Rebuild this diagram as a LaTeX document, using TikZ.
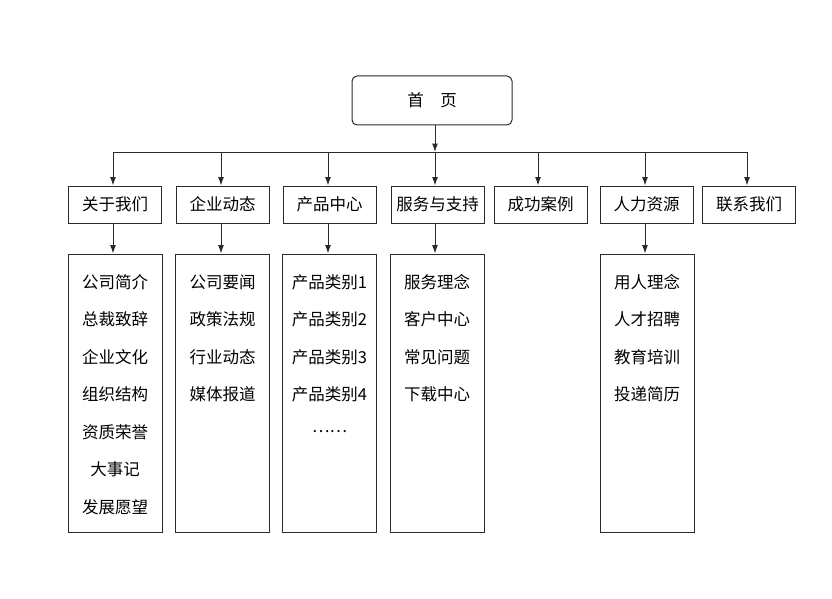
\documentclass[tikz,border=0pt]{standalone}
\usepackage{fontspec}
\newfontfamily\cjk{Noto Sans CJK SC}
\usetikzlibrary{arrows.meta}
\definecolor{ln}{HTML}{2a2a2a}
\tikzset{
  box/.style={draw=ln, line width=1pt, inner sep=0pt, font=\cjk\fontsize{16.5}{19}\selectfont, text=black},
  midbox/.style={box, minimum width=93pt, minimum height=37pt},
  lowbox/.style={box, minimum width=94pt, minimum height=278pt},
  item/.style={inner sep=0pt, font=\cjk\fontsize{16.5}{19}\selectfont, text=black},
  arr/.style={draw=ln, line width=1pt, -{Latex[length=8.5pt,width=6pt]}},
  bus/.style={draw=ln, line width=1pt}
}
\begin{document}
\begin{tikzpicture}[x=1pt,y=-1pt]
\useasboundingbox (0,0) rectangle (832,599);
% top
\node[box, rounded corners=5pt, minimum width=160pt, minimum height=49pt] (home) at (432,100.5) {首\quad 页};
% second row
\node[midbox] (m1) at (115,204.5) {关于我们};
\node[midbox] (m2) at (222.5,204.5) {企业动态};
\node[midbox] (m3) at (329.5,204.5) {产品中心};
\node[midbox] (m4) at (437.5,204.5) {服务与支持};
\node[midbox] (m5) at (540.5,204.5) {成功案例};
\node[midbox] (m6) at (646.5,204.5) {人力资源};
\node[midbox] (m7) at (749,204.5) {联系我们};
% bus
\coordinate (busL) at (113,152);
\coordinate (busR) at (747,152);
\coordinate (hs) at (435,100.5);
\draw[arr] (hs |- home.south) -- (hs |- busL);
\draw[bus] (busL) -- (busR);
\foreach \x/\n in {113/m1,221/m2,328/m3,435/m4,538/m5,645/m6,747/m7}{
  \draw[arr] (\x,152) -- (\x,152 |- \n.north);
}
% bottom boxes
\node[lowbox] (b1) at (115,393) {};
\node[lowbox] (b2) at (222.5,393) {};
\node[lowbox] (b3) at (329.5,393) {};
\node[lowbox] (b4) at (437,393) {};
\node[lowbox] (b6) at (647,393) {};
\foreach \x/\n/\b in {113/m1/b1,221/m2/b2,328/m3/b3,435/m4/b4,645/m6/b6}{
  \draw[arr] (\x,223 |- \n.south) -- (\x,223 |- \b.north);
}
% items
\foreach \t [count=\i] in {公司简介,总裁致辞,企业文化,组织结构,资质荣誉,大事记,发展愿望}{
  \node[item] (a\i) at (115,{282+37.5*(\i-1)}) {\t};
}
\foreach \t [count=\i] in {公司要闻,政策法规,行业动态,媒体报道}{
  \node[item] (c\i) at (222.5,{282+37.5*(\i-1)}) {\t};
}
\foreach \t [count=\i] in {产品类别1,产品类别2,产品类别3,产品类别4,……}{
  \node[item] (p\i) at (329.5,{282+37.5*(\i-1)}) {\t};
}
\foreach \t [count=\i] in {服务理念,客户中心,常见问题,下载中心}{
  \node[item] (s\i) at (437,{282+37.5*(\i-1)}) {\t};
}
\foreach \t [count=\i] in {用人理念,人才招聘,教育培训,投递简历}{
  \node[item] (h\i) at (647,{282+37.5*(\i-1)}) {\t};
}
\end{tikzpicture}
\end{document}
